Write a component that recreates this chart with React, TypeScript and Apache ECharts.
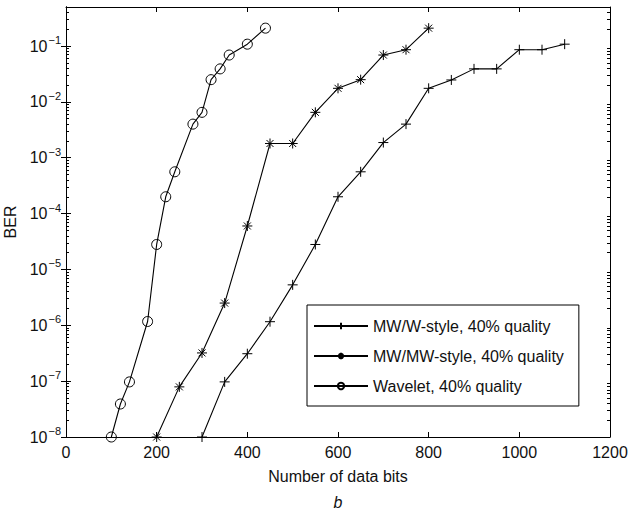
import React, { useEffect, useRef } from 'react';
import * as echarts from 'echarts';

// x: number of data bits, y: BER
const mwwX = [300, 350, 400, 450, 500, 550, 600, 650, 700, 750, 800, 850, 900, 950, 1000, 1050, 1100];
const mwwY = [1e-8, 9.7e-8, 3.1e-7, 1.16e-6, 5.3e-6, 2.8e-5, 2.0e-4, 5.6e-4, 1.87e-3, 4.0e-3, 0.0175, 0.0247, 0.039, 0.039, 0.086, 0.086, 0.108];

const mwmwX = [200, 250, 300, 350, 400, 450, 500, 550, 600, 650, 700, 750, 800];
const mwmwY = [1e-8, 7.9e-8, 3.2e-7, 2.5e-6, 6.0e-5, 1.8e-3, 1.8e-3, 6.5e-3, 0.0175, 0.025, 0.069, 0.086, 0.209];

const waveX = [100, 120, 140, 180, 200, 220, 240, 280, 300, 320, 340, 360, 400, 440];
const waveY = [1e-8, 3.9e-8, 9.7e-8, 1.17e-6, 2.8e-5, 2.0e-4, 5.6e-4, 4.0e-3, 6.5e-3, 0.025, 0.039, 0.069, 0.108, 0.209];

const seriesNames = ['MW/W-style, 40% quality', 'MW/MW-style, 40% quality', 'Wavelet, 40% quality'];

const majorY = [1e-8, 1e-7, 1e-6, 1e-5, 1e-4, 1e-3, 1e-2, 1e-1];
const minorY = [
  2e-8, 3e-8, 4e-8, 5e-8, 6e-8, 7e-8, 8e-8, 9e-8,
  2e-7, 3e-7, 4e-7, 5e-7, 6e-7, 7e-7, 8e-7, 9e-7,
  2e-6, 3e-6, 4e-6, 5e-6, 6e-6, 7e-6, 8e-6, 9e-6,
  2e-5, 3e-5, 4e-5, 5e-5, 6e-5, 7e-5, 8e-5, 9e-5,
  2e-4, 3e-4, 4e-4, 5e-4, 6e-4, 7e-4, 8e-4, 9e-4,
  2e-3, 3e-3, 4e-3, 5e-3, 6e-3, 7e-3, 8e-3, 9e-3,
  2e-2, 3e-2, 4e-2, 5e-2, 6e-2, 7e-2, 8e-2, 9e-2,
  0.2, 0.3, 0.4,
];

const X_MIN = 0;
const X_MAX = 1200;
const X_STEP = 200;
const Y_MIN = 1e-8;
const Y_MAX = 0.5;

const FONT = 'Liberation Sans, Arial, Helvetica, sans-serif';
const INK = '#111';

const PLUS = 'path://M0,-1L0,1M-1,0L1,0';
const STAR = 'path://M0,-1L0,1M-1,0L1,0M-0.7,-0.7L0.7,0.7M-0.7,0.7L0.7,-0.7';

function zip(xs: number[], ys: number[]) {
  return xs.map((x, i) => [x, ys[i]]);
}

function supLabel(v: number) {
  const e = Math.log10(v);
  const r = Math.round(e);
  if (Math.abs(e - r) > 1e-6) return '';
  return `{b|10}{s|\u2212${-r}}`;
}

export default function App() {
  const ref = useRef<HTMLDivElement>(null);
  useEffect(() => {
    if (!ref.current) return;
    const chart = echarts.init(ref.current, null, { renderer: 'svg' });
    const lineCommon = {
      type: 'line',
      xAxisIndex: 0,
      yAxisIndex: 0,
      lineStyle: { color: '#000', width: 1.1 },
      symbolKeepAspect: true,
      showAllSymbol: true,
      clip: false,
    };
    const yBase = {
      type: 'log',
      logBase: 10,
      min: Y_MIN,
      max: Y_MAX,
      splitLine: { show: false },
      axisLine: { show: true, lineStyle: { color: '#000', width: 1 } },
    };
    chart.setOption({
      animation: false,
      backgroundColor: '#fff',
      textStyle: { fontFamily: FONT },
      grid: { left: 66, right: 19, top: 7, bottom: 73, outerBoundsMode: 'none' },
      xAxis: [
        {
          type: 'value',
          position: 'bottom',
          min: X_MIN,
          max: X_MAX,
          interval: X_STEP,
          name: 'Number of data bits',
          nameLocation: 'middle',
          nameGap: 31,
          nameTextStyle: { fontSize: 16, color: INK, fontFamily: FONT },
          splitLine: { show: false },
          axisLine: { show: true, onZero: false, lineStyle: { color: '#000', width: 1 } },
          axisTick: { show: true, inside: true, length: 5, lineStyle: { color: '#000' } },
          axisLabel: { fontSize: 16, color: INK, fontFamily: FONT, margin: 7, formatter: (v: number) => String(v) },
        },
        {
          type: 'value',
          position: 'top',
          min: X_MIN,
          max: X_MAX,
          interval: X_STEP,
          splitLine: { show: false },
          axisLine: { show: true, onZero: false, lineStyle: { color: '#000', width: 1 } },
          axisTick: { show: true, inside: true, length: 5, lineStyle: { color: '#000' } },
          axisLabel: { show: false },
        },
      ],
      yAxis: [
        {
          ...yBase,
          position: 'left',
          name: 'BER',
          nameLocation: 'middle',
          nameGap: 44,
          nameTextStyle: { fontSize: 16, color: INK, fontFamily: FONT },
          axisTick: { show: true, inside: true, length: 5, customValues: majorY, lineStyle: { color: '#000' } },
          axisLabel: {
            show: true,
            customValues: majorY,
            margin: 5,
            formatter: supLabel,
            rich: {
              b: { fontSize: 16, color: INK, fontFamily: FONT },
              s: { fontSize: 11, color: INK, fontFamily: FONT, padding: [0, 0, 12, 1] },
            },
          },
        },
        {
          ...yBase,
          position: 'right',
          axisTick: { show: true, inside: true, length: 5, customValues: majorY, lineStyle: { color: '#000' } },
          axisLabel: { show: false },
        },
        {
          ...yBase,
          position: 'left',
          axisTick: { show: true, inside: true, length: 3, customValues: minorY, lineStyle: { color: '#000' } },
          axisLabel: { show: false },
        },
        {
          ...yBase,
          position: 'right',
          axisTick: { show: true, inside: true, length: 3, customValues: minorY, lineStyle: { color: '#000' } },
          axisLabel: { show: false },
        },
      ],
      legend: {
        orient: 'vertical',
        left: 307,
        top: 305,
        data: seriesNames,
        itemWidth: 54,
        itemHeight: 8,
        itemGap: 14,
        padding: [13, 15, 12, 6],
        borderColor: '#000',
        borderWidth: 1,
        borderRadius: 0,
        backgroundColor: '#fff',
        textStyle: { fontSize: 16, color: INK, fontFamily: FONT },
      },
      series: [
        {
          ...lineCommon,
          name: seriesNames[0],
          data: zip(mwwX, mwwY),
          symbol: PLUS,
          symbolSize: 10,
          itemStyle: { color: '#000', borderColor: '#000', borderWidth: 1 },
        },
        {
          ...lineCommon,
          name: seriesNames[1],
          data: zip(mwmwX, mwmwY),
          symbol: STAR,
          symbolSize: 10,
          itemStyle: { color: '#000', borderColor: '#000', borderWidth: 1 },
        },
        {
          ...lineCommon,
          name: seriesNames[2],
          data: zip(waveX, waveY),
          symbol: 'circle',
          symbolSize: 10,
          itemStyle: { color: 'rgba(0,0,0,0)', borderColor: '#000', borderWidth: 1 },
        },
      ],
      graphic: [
        {
          type: 'text',
          x: 338,
          y: 502,
          style: {
            text: 'b',
            fontSize: 16,
            fontStyle: 'italic',
            fontFamily: FONT,
            fill: INK,
            textAlign: 'center',
            textVerticalAlign: 'middle',
          },
        },
      ],
    });
    return () => chart.dispose();
  }, []);
  return (
    <div
      ref={ref}
      style={{ position: 'absolute', left: 0, top: 0, width: 629, height: 510 }}
    />
  );
}
